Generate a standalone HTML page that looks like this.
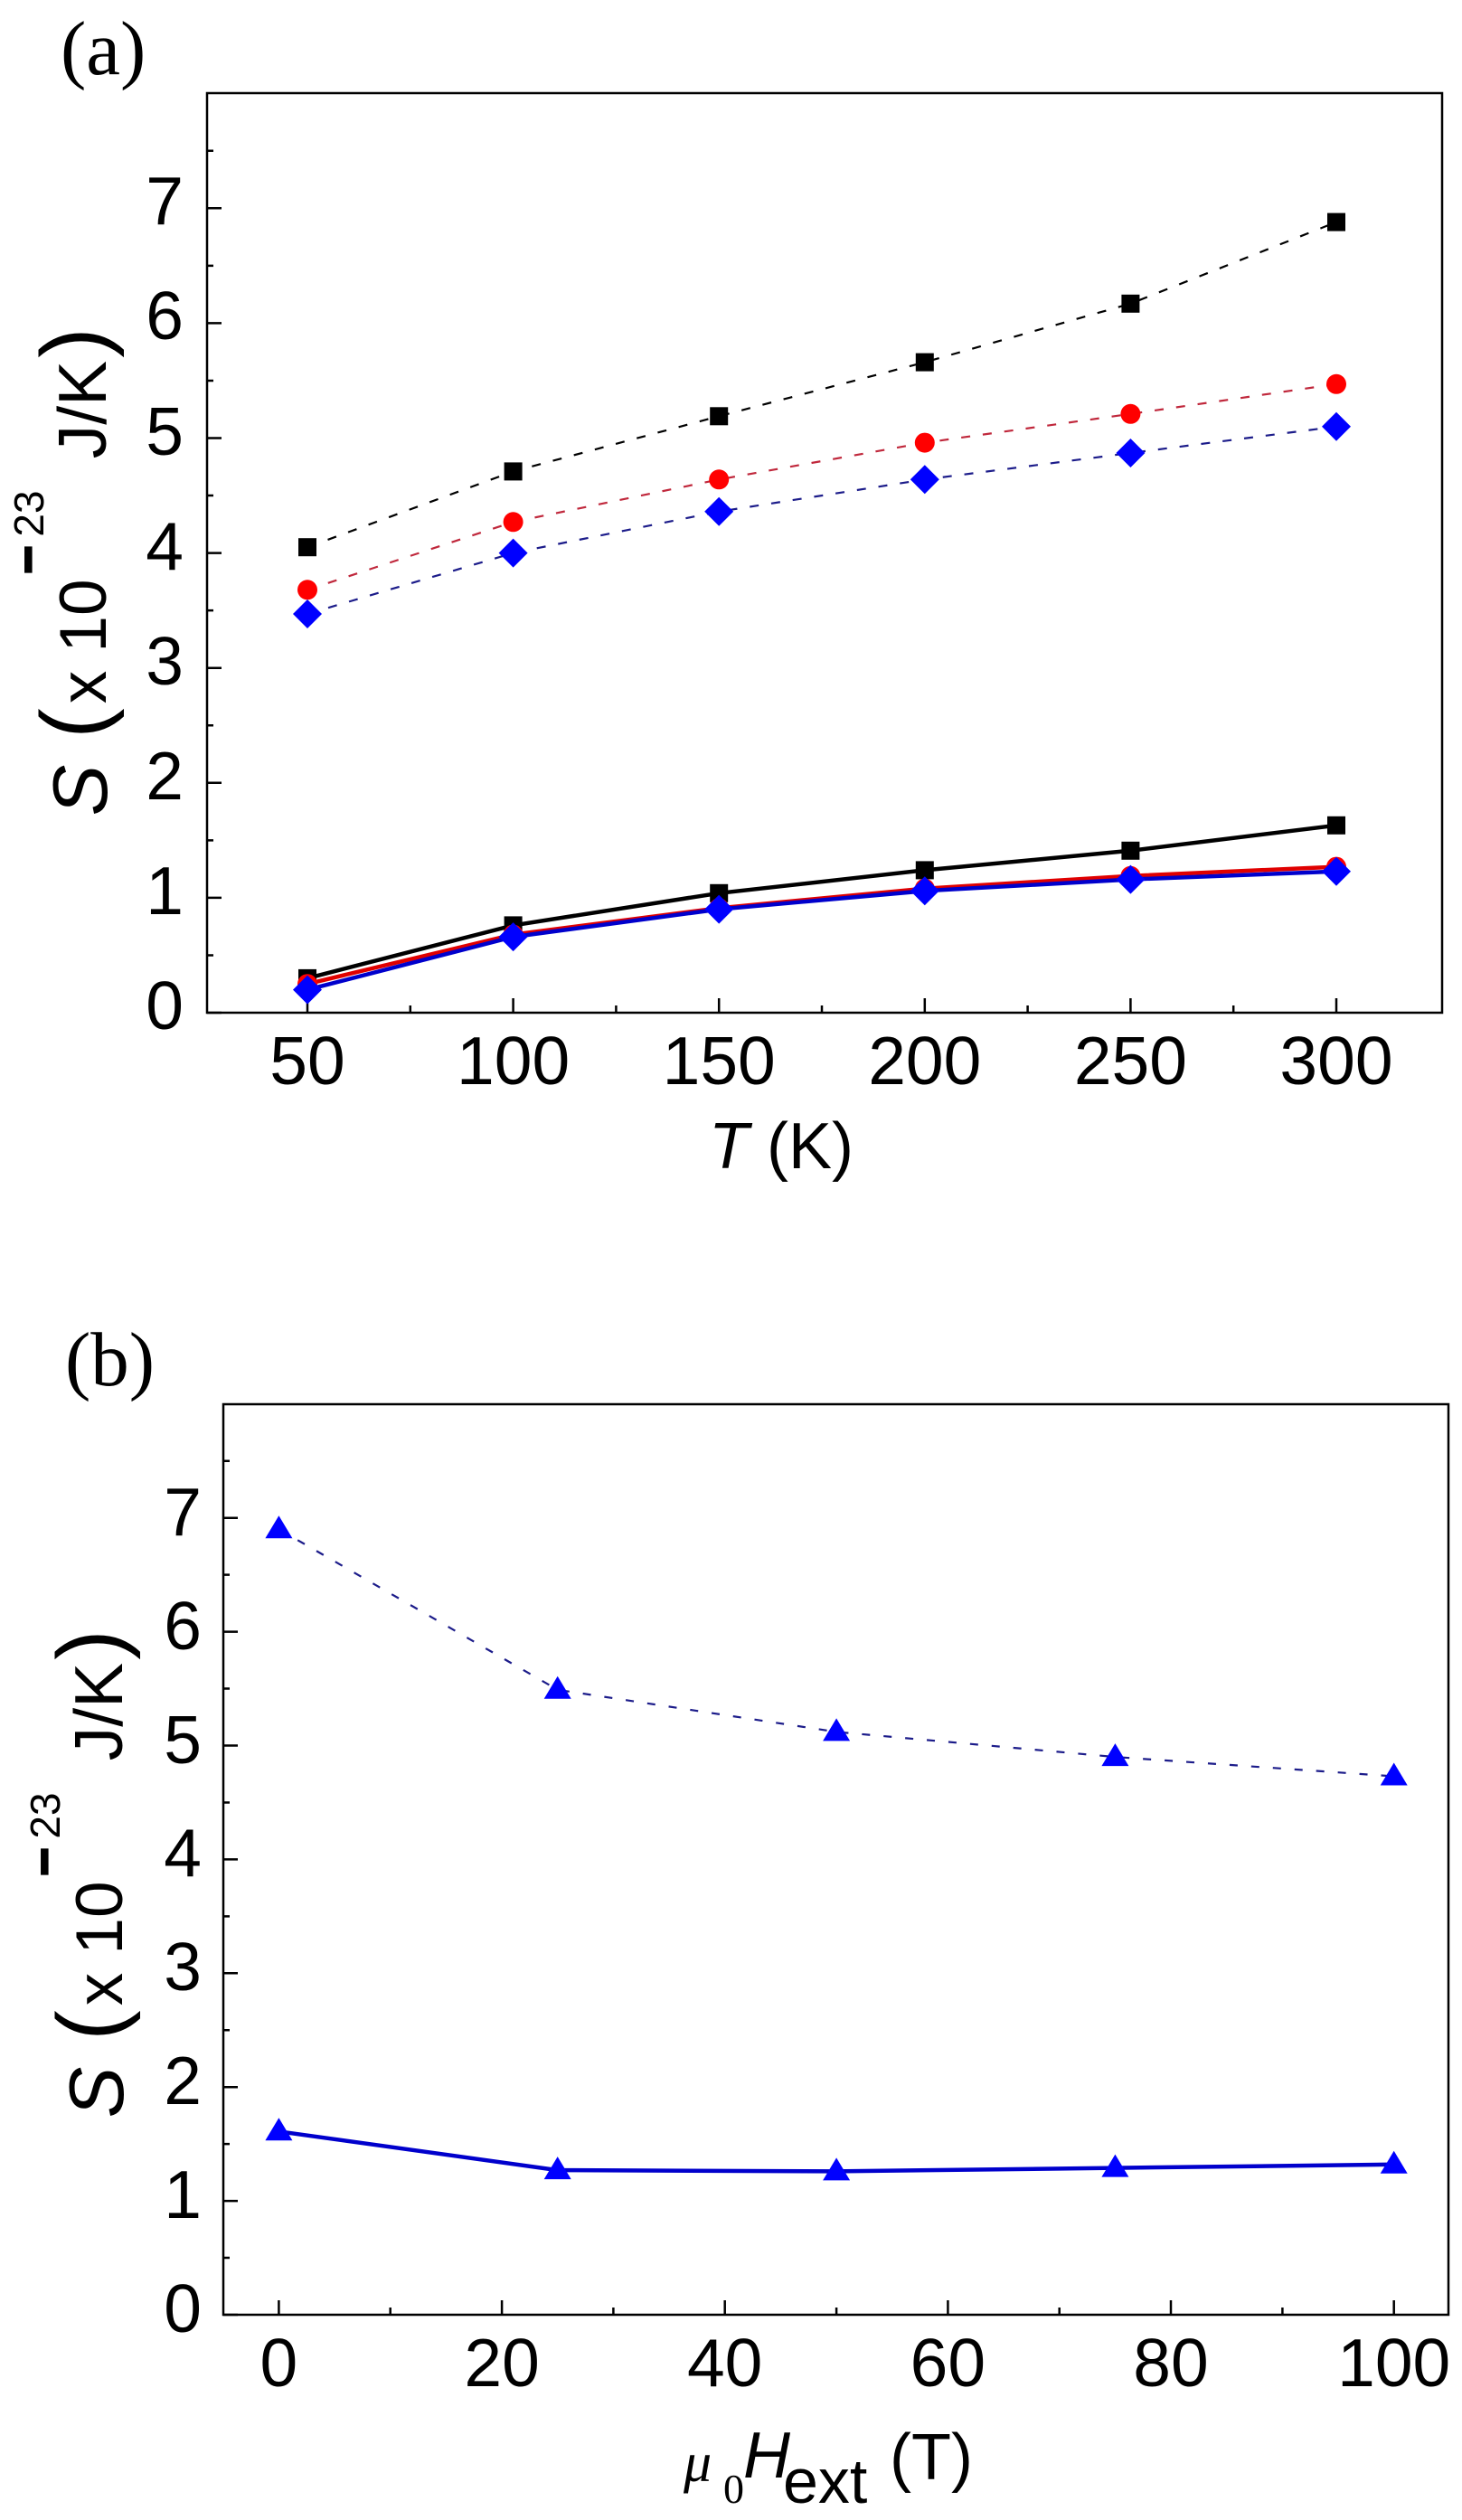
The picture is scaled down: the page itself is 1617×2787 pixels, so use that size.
<!DOCTYPE html>
<html>
<head>
<meta charset="utf-8">
<style>
  html, body { margin:0; padding:0; background:#fff; }
  svg { display:block; }
  text { font-family: "Liberation Sans", Arial, sans-serif; fill:#000; }
  .serif { font-family: "Liberation Serif", "Times New Roman", serif; }
</style>
</head>
<body>
<svg width="1617" height="2787" viewBox="0 0 1617 2787" xmlns="http://www.w3.org/2000/svg">
  <rect x="0" y="0" width="1617" height="2787" fill="#fff"/>

  <!-- ================= PANEL A ================= -->
  <text class="serif" x="67" y="82" font-size="85">(a)</text>

  <!-- axes box -->
  <rect x="229" y="103" width="1366" height="1017" fill="none" stroke="#000" stroke-width="2.5"/>

  <!-- y ticks -->
  <path d="M229,1120h16 M229,992.9h16 M229,865.8h16 M229,738.7h16 M229,611.6h16 M229,484.5h16 M229,357.4h16 M229,230.3h16
           M229,1056.45h7 M229,929.35h7 M229,802.25h7 M229,675.15h7 M229,548.05h7 M229,420.95h7 M229,293.85h7 M229,166.75h7"
        stroke="#000" stroke-width="2.5" fill="none"/>
  <!-- x ticks -->
  <path d="M340,1120v-16 M567.6,1120v-16 M795.2,1120v-16 M1022.8,1120v-16 M1250.4,1120v-16 M1478,1120v-16
           M453.8,1120v-8 M681.4,1120v-8 M909,1120v-8 M1136.6,1120v-8 M1364.2,1120v-8"
        stroke="#000" stroke-width="2.5" fill="none"/>

  <!-- y tick labels -->
  <g font-size="75" text-anchor="end">
    <text x="203" y="1138">0</text>
    <text x="203" y="1011">1</text>
    <text x="203" y="884">2</text>
    <text x="203" y="757">3</text>
    <text x="203" y="630">4</text>
    <text x="203" y="503">5</text>
    <text x="203" y="375">6</text>
    <text x="203" y="248">7</text>
  </g>
  <!-- x tick labels -->
  <g font-size="75" text-anchor="middle">
    <text x="340" y="1199">50</text>
    <text x="567.6" y="1199">100</text>
    <text x="795.2" y="1199">150</text>
    <text x="1022.8" y="1199">200</text>
    <text x="1250.4" y="1199">250</text>
    <text x="1478" y="1199">300</text>
  </g>

  <!-- x axis label -->
  <text x="784" y="1292" font-size="72"><tspan font-style="italic">T</tspan> (K)</text>

  <!-- y axis label (panel a) -->
  <g id="ylab">
    <text transform="translate(118,874) rotate(-90)" text-anchor="middle" font-size="85" font-style="italic">S</text>
    <text transform="translate(116,800) rotate(-90)" text-anchor="middle" font-size="101">(</text>
    <text transform="translate(117,760) rotate(-90)" text-anchor="middle" font-size="73">x</text>
    <text transform="translate(117,681) rotate(-90)" text-anchor="middle" font-size="73">10</text>
    <text transform="translate(48,619) rotate(-90)" text-anchor="middle" font-size="50" stroke="#000" stroke-width="5">−</text>
    <text transform="translate(48,568) rotate(-90)" text-anchor="middle" font-size="46">23</text>
    <text transform="translate(117,453) rotate(-90)" text-anchor="middle" font-size="75">J/K</text>
    <text transform="translate(116,379) rotate(-90)" text-anchor="middle" font-size="101">)</text>
  </g>

  <!-- dashed lines -->
  <polyline points="340,605.2 567.6,521.4 795.2,460.3 1022.8,400.6 1250.4,335.8 1478,245.6"
            fill="none" stroke="#000" stroke-width="2.2" stroke-dasharray="10 14"/>
  <polyline points="340,652.3 567.6,577.3 795.2,530.3 1022.8,489.6 1250.4,457.8 1478,424.8"
            fill="none" stroke="#c0283c" stroke-width="2.2" stroke-dasharray="10 14"/>
  <polyline points="340,679.0 567.6,611.6 795.2,565.8 1022.8,530.3 1250.4,501.0 1478,471.8"
            fill="none" stroke="#1c1c8a" stroke-width="2.2" stroke-dasharray="10 14"/>

  <!-- solid lines -->
  <polyline points="340,1081.9 567.6,1023.4 795.2,987.8 1022.8,962.4 1250.4,940.8 1478,912.8"
            fill="none" stroke="#000" stroke-width="4.5"/>
  <polyline points="340,1088.2 567.6,1033.6 795.2,1004.3 1022.8,982.7 1250.4,968.8 1478,958.6"
            fill="none" stroke="#e00000" stroke-width="4.5"/>
  <polyline points="340,1094.6 567.6,1036.1 795.2,1005.6 1022.8,985.3 1250.4,972.6 1478,963.7"
            fill="none" stroke="#0000cc" stroke-width="4.5"/>

  <!-- black squares -->
  <g fill="#000">
    <rect x="330" y="595.2" width="20" height="20"/>
    <rect x="557.6" y="511.4" width="20" height="20"/>
    <rect x="785.2" y="450.3" width="20" height="20"/>
    <rect x="1012.8" y="390.6" width="20" height="20"/>
    <rect x="1240.4" y="325.8" width="20" height="20"/>
    <rect x="1468" y="235.6" width="20" height="20"/>
    <rect x="330" y="1071.9" width="20" height="20"/>
    <rect x="557.6" y="1013.4" width="20" height="20"/>
    <rect x="785.2" y="977.8" width="20" height="20"/>
    <rect x="1012.8" y="952.4" width="20" height="20"/>
    <rect x="1240.4" y="930.8" width="20" height="20"/>
    <rect x="1468" y="902.8" width="20" height="20"/>
  </g>
  <!-- red circles -->
  <g fill="#ff0000">
    <circle cx="340" cy="652.3" r="11"/>
    <circle cx="567.6" cy="577.3" r="11"/>
    <circle cx="795.2" cy="530.3" r="11"/>
    <circle cx="1022.8" cy="489.6" r="11"/>
    <circle cx="1250.4" cy="457.8" r="11"/>
    <circle cx="1478" cy="424.8" r="11"/>
    <circle cx="340" cy="1088.2" r="11"/>
    <circle cx="567.6" cy="1033.6" r="11"/>
    <circle cx="795.2" cy="1004.3" r="11"/>
    <circle cx="1022.8" cy="982.7" r="11"/>
    <circle cx="1250.4" cy="968.8" r="11"/>
    <circle cx="1478" cy="958.6" r="11"/>
  </g>
  <!-- blue diamonds -->
  <g fill="#0000ff">
    <polygon points="340,663 356,679 340,695 324,679"/>
    <polygon points="567.6,595.6 583.6,611.6 567.6,627.6 551.6,611.6"/>
    <polygon points="795.2,549.8 811.2,565.8 795.2,581.8 779.2,565.8"/>
    <polygon points="1022.8,514.3 1038.8,530.3 1022.8,546.3 1006.8,530.3"/>
    <polygon points="1250.4,485 1266.4,501 1250.4,517 1234.4,501"/>
    <polygon points="1478,455.8 1494,471.8 1478,487.8 1462,471.8"/>
    <polygon points="340,1078.6 356,1094.6 340,1110.6 324,1094.6"/>
    <polygon points="567.6,1020.1 583.6,1036.1 567.6,1052.1 551.6,1036.1"/>
    <polygon points="795.2,989.6 811.2,1005.6 795.2,1021.6 779.2,1005.6"/>
    <polygon points="1022.8,969.3 1038.8,985.3 1022.8,1001.3 1006.8,985.3"/>
    <polygon points="1250.4,956.6 1266.4,972.6 1250.4,988.6 1234.4,972.6"/>
    <polygon points="1478,947.7 1494,963.7 1478,979.7 1462,963.7"/>
  </g>

  <!-- ================= PANEL B ================= -->
  <text class="serif" x="72" y="1532" font-size="85">(b)</text>

  <rect x="247" y="1553" width="1355" height="1007" fill="none" stroke="#000" stroke-width="2.5"/>

  <path d="M247,2560h16 M247,2434.1h16 M247,2308.2h16 M247,2182.3h16 M247,2056.4h16 M247,1930.5h16 M247,1804.6h16 M247,1678.7h16
           M247,2497.05h7 M247,2371.15h7 M247,2245.25h7 M247,2119.35h7 M247,1993.45h7 M247,1867.55h7 M247,1741.65h7 M247,1615.75h7"
        stroke="#000" stroke-width="2.5" fill="none"/>
  <path d="M308.4,2560v-16 M555.1,2560v-16 M801.7,2560v-16 M1048.4,2560v-16 M1295,2560v-16 M1541.7,2560v-16
           M431.7,2560v-8 M678.4,2560v-8 M925.1,2560v-8 M1171.7,2560v-8 M1418.4,2560v-8"
        stroke="#000" stroke-width="2.5" fill="none"/>

  <g font-size="75" text-anchor="end">
    <text x="223" y="2579">0</text>
    <text x="223" y="2453">1</text>
    <text x="223" y="2327">2</text>
    <text x="223" y="2201">3</text>
    <text x="223" y="2075">4</text>
    <text x="223" y="1950">5</text>
    <text x="223" y="1824">6</text>
    <text x="223" y="1698">7</text>
  </g>
  <g font-size="75" text-anchor="middle">
    <text x="308.4" y="2639">0</text>
    <text x="555.1" y="2639">20</text>
    <text x="801.7" y="2639">40</text>
    <text x="1048.4" y="2639">60</text>
    <text x="1295" y="2639">80</text>
    <text x="1541.7" y="2639">100</text>
  </g>

  <!-- x axis label panel b -->
  <text class="serif" x="756" y="2744" font-size="62" font-style="italic">μ</text>
  <text class="serif" x="800" y="2768" font-size="46">0</text>
  <text x="822" y="2740" font-size="72" font-style="italic">H</text>
  <text x="866" y="2768" font-size="70">ext</text>
  <text x="984" y="2742" font-size="72">(T)</text>

  <!-- y axis label panel b -->
  <g transform="translate(18,1440)">
    <text transform="translate(118,874) rotate(-90)" text-anchor="middle" font-size="85" font-style="italic">S</text>
    <text transform="translate(116,800) rotate(-90)" text-anchor="middle" font-size="101">(</text>
    <text transform="translate(117,760) rotate(-90)" text-anchor="middle" font-size="73">x</text>
    <text transform="translate(117,681) rotate(-90)" text-anchor="middle" font-size="73">10</text>
    <text transform="translate(48,619) rotate(-90)" text-anchor="middle" font-size="50" stroke="#000" stroke-width="5">−</text>
    <text transform="translate(48,568) rotate(-90)" text-anchor="middle" font-size="46">23</text>
    <text transform="translate(117,453) rotate(-90)" text-anchor="middle" font-size="75">J/K</text>
    <text transform="translate(116,379) rotate(-90)" text-anchor="middle" font-size="101">)</text>
  </g>

  <!-- series -->
  <polyline points="308.4,1691.3 616.7,1868.8 925.1,1915.4 1233.4,1943.1 1541.7,1964.5"
            fill="none" stroke="#1c1c8a" stroke-width="2.2" stroke-dasharray="9 15"/>
  <polyline points="308.4,2357.3 616.7,2400.1 925.1,2401.4 1233.4,2397.6 1541.7,2393.8"
            fill="none" stroke="#0000cc" stroke-width="4.5"/>
  <g fill="#0000ff">
    <polygon points="308.4,1676.3 293.4,1701.3 323.4,1701.3"/>
    <polygon points="616.7,1853.8 601.7,1878.8 631.7,1878.8"/>
    <polygon points="925.1,1900.4 910.1,1925.4 940.1,1925.4"/>
    <polygon points="1233.4,1928.1 1218.4,1953.1 1248.4,1953.1"/>
    <polygon points="1541.7,1949.5 1526.7,1974.5 1556.7,1974.5"/>
    <polygon points="308.4,2342.3 293.4,2367.3 323.4,2367.3"/>
    <polygon points="616.7,2385.1 601.7,2410.1 631.7,2410.1"/>
    <polygon points="925.1,2386.4 910.1,2411.4 940.1,2411.4"/>
    <polygon points="1233.4,2382.6 1218.4,2407.6 1248.4,2407.6"/>
    <polygon points="1541.7,2378.8 1526.7,2403.8 1556.7,2403.8"/>
  </g>
</svg>
</body>
</html>
